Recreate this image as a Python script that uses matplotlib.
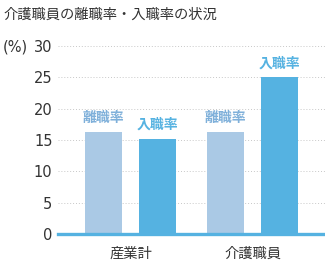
import matplotlib
matplotlib.use("Agg")
import matplotlib.pyplot as plt
import numpy as np

plt.rcParams['font.family'] = ['Noto Sans CJK JP', 'DejaVu Sans']

title = "介護職員の離職率・入職率の状況"
categories = ["産業計", "介護職員"]
series_names = ["離職率", "入職率"]
turnover = [16.3, 16.3]   # 離職率
hiring = [15.2, 25.0]     # 入職率
yticks = [0, 5, 10, 15, 20, 25, 30]
ytick_labels = ["0", "5", "10", "15", "20", "25", "30"]
unit_label = "(%)"

light = "#aac9e5"
dark = "#55b2e1"
light_text = "#7fb0da"
text_col = "#333333"

fig = plt.figure(figsize=(3.25, 2.7), dpi=100)
ax = fig.add_axes([58/325, 36/270, 1 - 58/325, 188/270])

x = np.arange(len(categories))
off = 27/122
w = 37/122
b1 = ax.bar(x - off, turnover, width=w, color=light, zorder=2)
b2 = ax.bar(x + off, hiring, width=w, color=dark, zorder=2)

for bars, name, col in [(b1, series_names[0], light_text), (b2, series_names[1], dark)]:
    for r in bars:
        ax.annotate(name, (r.get_x() + r.get_width()/2, r.get_height()),
                    xytext=(0, 10), textcoords="offset points",
                    ha="center", va="center", fontsize=10, fontweight="bold",
                    color=col)

ax.set_xlim(-0.594, 1.594)
ax.set_ylim(0, 30)
ax.set_yticks(yticks)
ax.set_yticklabels(ytick_labels, family=['DejaVu Sans'], fontsize=10.5, color=text_col)
ax.set_xticks(x)
ax.set_xticklabels(categories, fontsize=10.3, color=text_col)
ax.tick_params(axis='both', length=0)
ax.tick_params(axis='y', pad=4)
ax.tick_params(axis='x', pad=9)
for s in ax.spines.values():
    s.set_visible(False)
ax.yaxis.grid(True, linestyle=(0, (1, 2)), color="#c8c8c8", linewidth=0.7, zorder=0)
ax.set_axisbelow(True)
ax.axhline(0, color=dark, linewidth=2.4, zorder=3, clip_on=False)

fig.text(3/325, 1 - 15/270, title, fontsize=10.3, color=text_col, ha="left", va="center")
fig.text(3/325, 1 - 47/270, unit_label, fontsize=10.5, color=text_col, ha="left", va="center",
         family=['DejaVu Sans'])

fig.savefig("out.png", dpi=100)
